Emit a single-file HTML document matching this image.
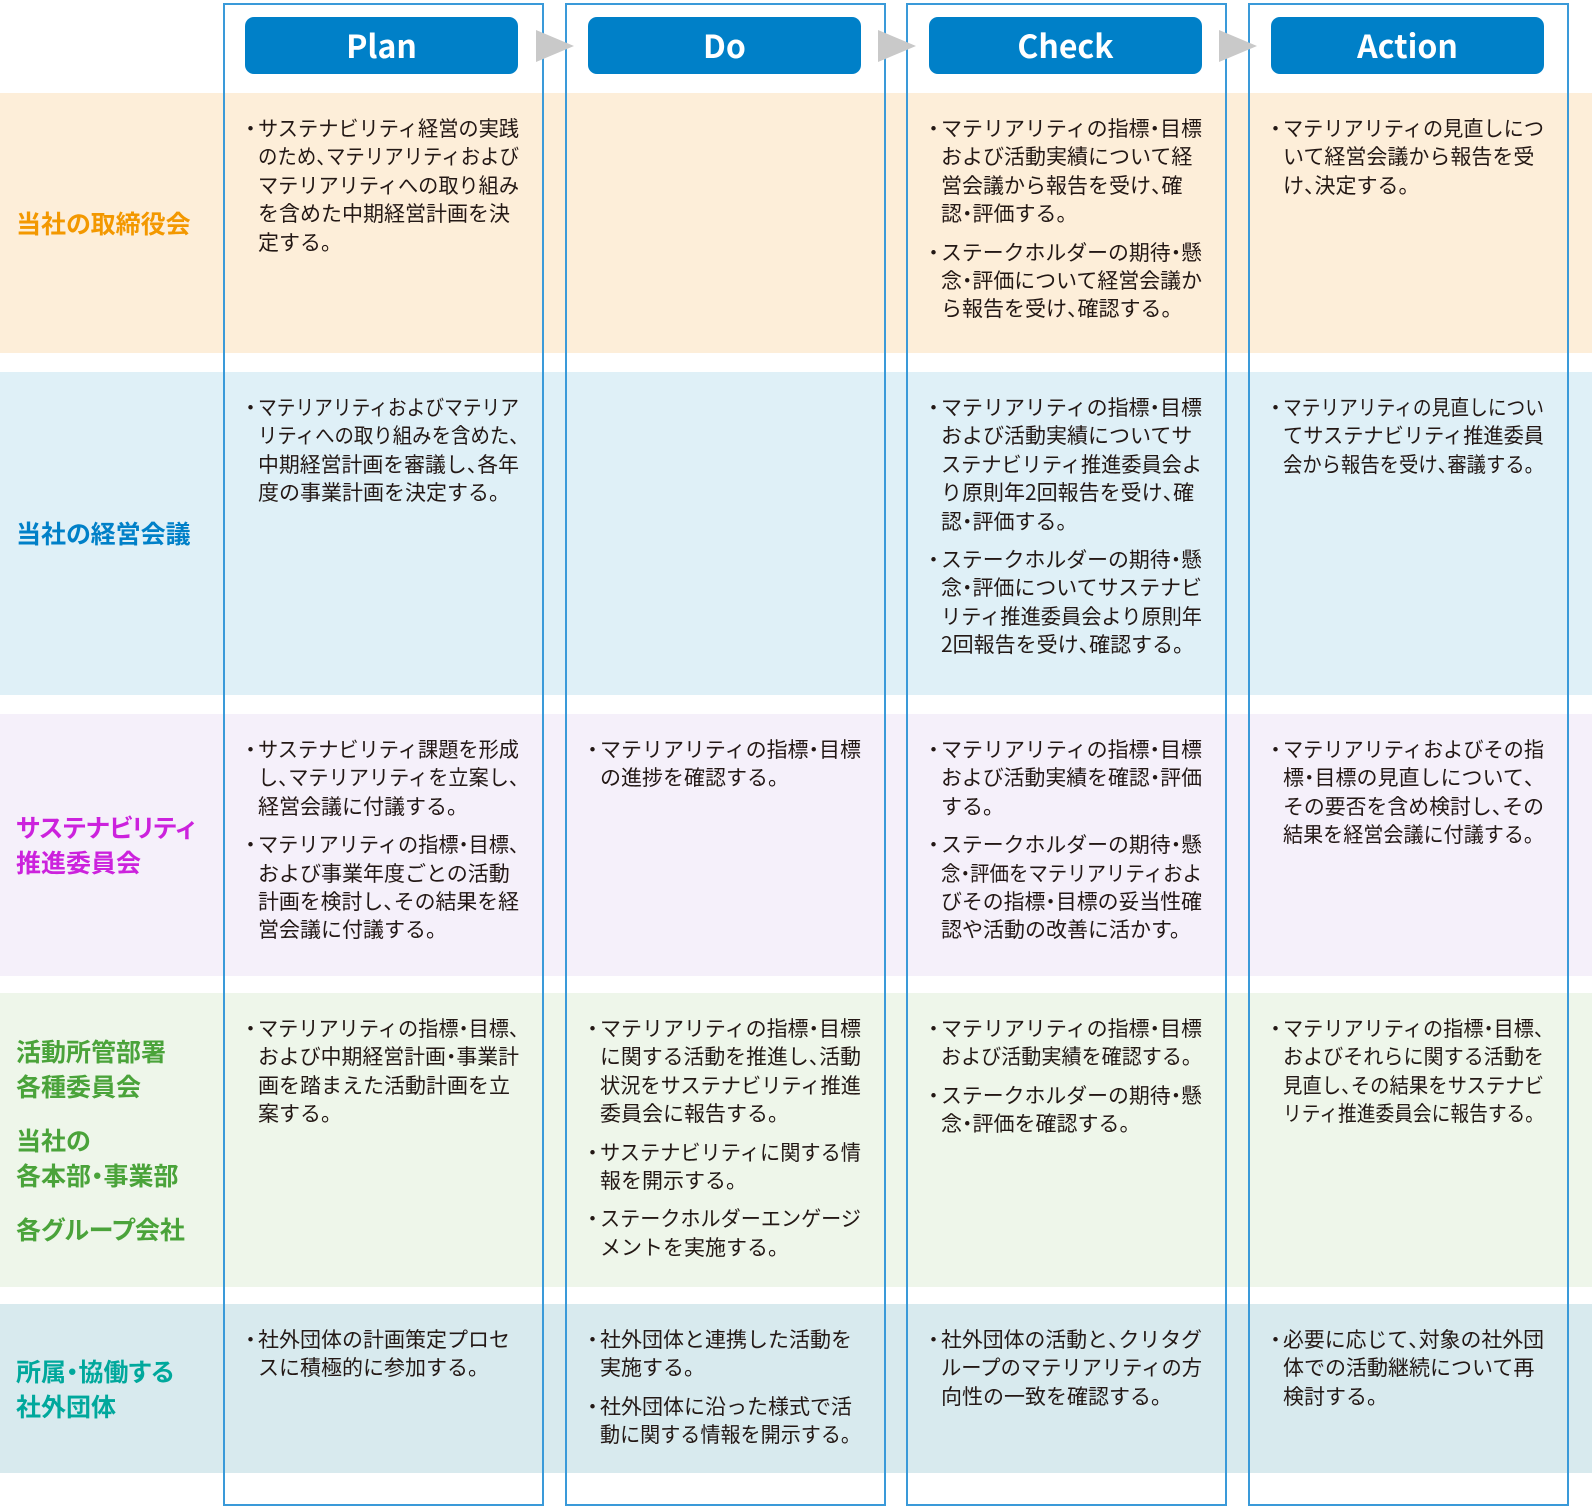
<!DOCTYPE html>
<html><head><meta charset="utf-8">
<style>
*{margin:0;padding:0;box-sizing:border-box}
body{width:1592px;height:1507px;background:#fff;position:relative;overflow:hidden;font-family:"Noto Sans CJK JP",sans-serif;color:#231815}
.band{position:absolute;left:0;width:1592px}
.col{position:absolute;top:3px;width:321px;height:1503px;border:2px solid #3a9ad9}
.btn{position:absolute;top:17px;width:273px;height:57px;background:#0080c8;border-radius:9px;color:#fff;font-weight:bold;font-size:32px;text-align:center;line-height:57px}
.arr{position:absolute;top:30px;width:0;height:0;border-top:16px solid transparent;border-bottom:16px solid transparent;border-left:38px solid #c9c9c9}
.lab{position:absolute;left:16px;display:flex;flex-direction:column;justify-content:center;font-weight:bold;font-size:25px;line-height:35px;white-space:nowrap;font-feature-settings:"palt"}
.t{position:absolute;font-size:21px;line-height:28.4px;white-space:nowrap}
.t p{position:relative;margin-bottom:10px}
.t p::before{content:"・";position:absolute;left:-18px;top:0}
.t p span{display:block;width:max-content;transform-origin:0 50%}
i{font-style:normal;font-feature-settings:"halt"}
</style></head><body>
<div class="band" style="top:93px;height:260px;background:#fdeed9"></div>
<div class="band" style="top:372px;height:323px;background:#dff0f7"></div>
<div class="band" style="top:714px;height:262px;background:#f5f0fa"></div>
<div class="band" style="top:993px;height:294px;background:#eef6ea"></div>
<div class="band" style="top:1304px;height:169px;background:#d8eaee"></div>

<div class="col" style="left:223px"></div>
<div class="col" style="left:565px"></div>
<div class="col" style="left:906px"></div>
<div class="col" style="left:1248px"></div>

<div class="btn" style="left:245px">Plan</div>
<div class="btn" style="left:588px">Do</div>
<div class="btn" style="left:929px">Check</div>
<div class="btn" style="left:1271px">Action</div>
<div class="arr" style="left:536px"></div>
<div class="arr" style="left:878px"></div>
<div class="arr" style="left:1219px"></div>

<div class="lab" style="top:93px;height:260px;color:#f39800">当社の取締役会</div>
<div class="lab" style="top:372px;height:323px;color:#0080c8">当社の経営会議</div>
<div class="lab" style="top:714px;height:262px;color:#cc22dd"><div>サステナビリティ<br>推進委員会</div></div>
<div class="lab" style="top:993px;height:294px;color:#4aa33a"><div>活動所管部署<br>各種委員会</div><div style="margin-top:19px">当社の<br>各本部<i>・</i>事業部</div><div style="margin-top:19px">各グループ会社</div></div>
<div class="lab" style="top:1304px;height:169px;color:#00a89c"><div>所属<i>・</i>協働する<br>社外団体</div></div>

<!-- row 1 -->
<div class="t" style="left:258px;top:114px"><p>サステナビリティ経営の実践<br>のため<i>、</i>マテリアリティおよび<br>マテリアリティへの取り組み<br>を含めた中期経営計画を決<br>定する。</p></div>
<div class="t" style="left:941px;top:114px"><p>マテリアリティの指標<i>・</i>目標<br>および活動実績について経<br>営会議から報告を受け<i>、</i>確<br>認<i>・</i>評価する。</p><p>ステークホルダーの期待<i>・</i>懸<br>念<i>・</i>評価について経営会議か<br>ら報告を受け<i>、</i>確認する。</p></div>
<div class="t" style="left:1283px;top:114px"><p>マテリアリティの見直しにつ<br>いて経営会議から報告を受<br>け<i>、</i>決定する。</p></div>

<!-- row 2 -->
<div class="t" style="left:258px;top:393px"><p>マテリアリティおよびマテリア<br>リティへの取り組みを含めた<i>、</i><br>中期経営計画を審議し<i>、</i>各年<br>度の事業計画を決定する。</p></div>
<div class="t" style="left:941px;top:393px"><p>マテリアリティの指標<i>・</i>目標<br>および活動実績についてサ<br>ステナビリティ推進委員会よ<br>り原則年2回報告を受け<i>、</i>確<br>認<i>・</i>評価する。</p><p>ステークホルダーの期待<i>・</i>懸<br>念<i>・</i>評価についてサステナビ<br>リティ推進委員会より原則年<br>2回報告を受け<i>、</i>確認する。</p></div>
<div class="t" style="left:1283px;top:393px"><p>マテリアリティの見直しについ<br>てサステナビリティ推進委員<br>会から報告を受け<i>、</i>審議する。</p></div>

<!-- row 3 -->
<div class="t" style="left:258px;top:735px"><p>サステナビリティ課題を形成<br>し<i>、</i>マテリアリティを立案し<i>、</i><br>経営会議に付議する。</p><p>マテリアリティの指標<i>・</i>目標<i>、</i><br>および事業年度ごとの活動<br>計画を検討し<i>、</i>その結果を経<br>営会議に付議する。</p></div>
<div class="t" style="left:600px;top:735px"><p>マテリアリティの指標<i>・</i>目標<br>の進捗を確認する。</p></div>
<div class="t" style="left:941px;top:735px"><p>マテリアリティの指標<i>・</i>目標<br>および活動実績を確認<i>・</i>評価<br>する。</p><p>ステークホルダーの期待<i>・</i>懸<br>念<i>・</i>評価をマテリアリティおよ<br>びその指標<i>・</i>目標の妥当性確<br>認や活動の改善に活かす。</p></div>
<div class="t" style="left:1283px;top:735px"><p>マテリアリティおよびその指<br>標<i>・</i>目標の見直しについて<i>、</i><br>その要否を含め検討し<i>、</i>その<br>結果を経営会議に付議する。</p></div>

<!-- row 4 -->
<div class="t" style="left:258px;top:1014px"><p>マテリアリティの指標<i>・</i>目標<i>、</i><br>および中期経営計画<i>・</i>事業計<br>画を踏まえた活動計画を立<br>案する。</p></div>
<div class="t" style="left:600px;top:1014px"><p>マテリアリティの指標<i>・</i>目標<br>に関する活動を推進し<i>、</i>活動<br>状況をサステナビリティ推進<br>委員会に報告する。</p><p>サステナビリティに関する情<br>報を開示する。</p><p>ステークホルダーエンゲージ<br>メントを実施する。</p></div>
<div class="t" style="left:941px;top:1014px"><p>マテリアリティの指標<i>・</i>目標<br>および活動実績を確認する。</p><p>ステークホルダーの期待<i>・</i>懸<br>念<i>・</i>評価を確認する。</p></div>
<div class="t" style="left:1283px;top:1014px"><p>マテリアリティの指標<i>・</i>目標<i>、</i><br>およびそれらに関する活動を<br>見直し<i>、</i>その結果をサステナビ<br>リティ推進委員会に報告する。</p></div>

<!-- row 5 -->
<div class="t" style="left:258px;top:1325px"><p>社外団体の計画策定プロセ<br>スに積極的に参加する。</p></div>
<div class="t" style="left:600px;top:1325px"><p>社外団体と連携した活動を<br>実施する。</p><p>社外団体に沿った様式で活<br>動に関する情報を開示する。</p></div>
<div class="t" style="left:941px;top:1325px"><p>社外団体の活動と<i>、</i>クリタグ<br>ループのマテリアリティの方<br>向性の一致を確認する。</p></div>
<div class="t" style="left:1283px;top:1325px"><p>必要に応じて<i>、</i>対象の社外団<br>体での活動継続について再<br>検討する。</p></div>
<script>
document.querySelectorAll('.t p').forEach(function(p){
  p.innerHTML=p.innerHTML.split(/<br\s*\/?>/).map(function(s){return '<span>'+s+'</span>';}).join('');
  p.querySelectorAll('span').forEach(function(s){
    var w=s.getBoundingClientRect().width;
    if(w>261){s.style.transform='scaleX('+(261/w)+')';}
  });
});
</script>
</body></html>
